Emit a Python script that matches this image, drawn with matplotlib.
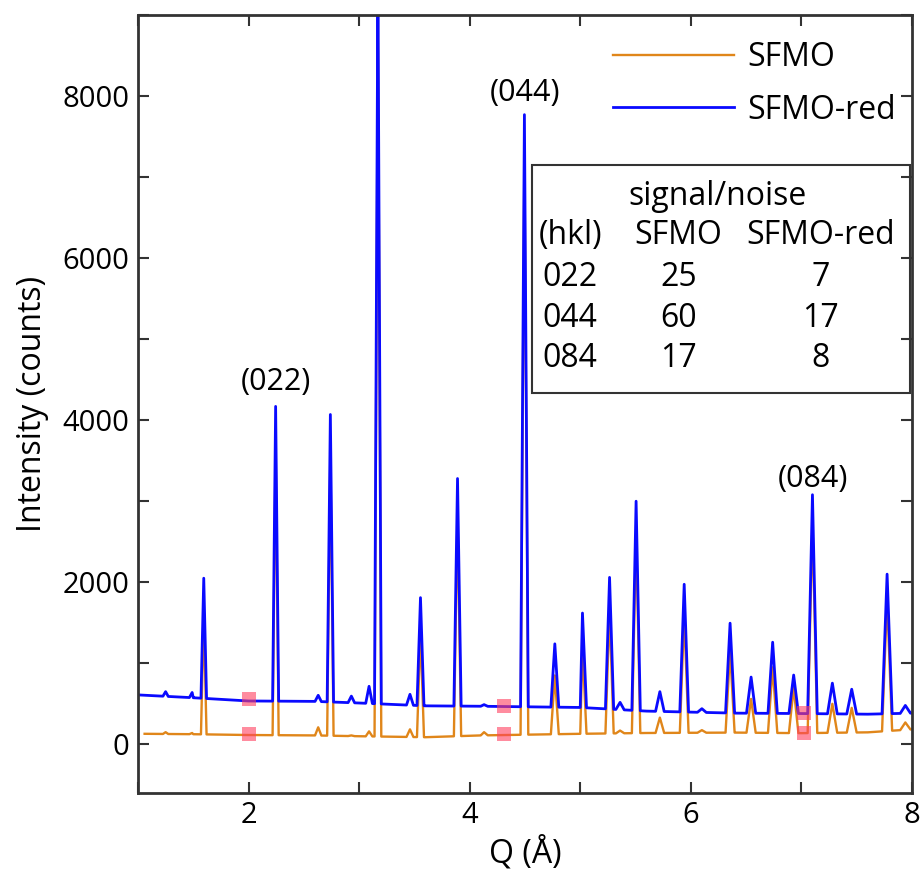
import numpy as np
import matplotlib
matplotlib.use("Agg")
import matplotlib.pyplot as plt
from matplotlib.patches import Rectangle
from matplotlib.ticker import MultipleLocator, FuncFormatter

plt.rcParams['font.family'] = ['Open Sans', 'DejaVu Sans']

# peak positions (Q) and peak tops
peak_q = [1.25, 1.49, 1.595, 2.245, 2.63, 2.74, 2.93, 3.09, 3.17, 3.46, 3.555, 3.89,
          4.13, 4.495, 4.77, 5.02, 5.265, 5.36, 5.505, 5.72, 5.94, 6.10, 6.355,
          6.545, 6.74, 6.93, 7.10, 7.28, 7.455, 7.775, 7.94]
red_top = [650, 640, 2050, 4170, 605, 4070, 595, 716, 9500, 617, 1810, 3280,
           490, 7770, 1240, 1620, 2060, 518, 3000, 650, 1975, 440, 1495,
           830, 1260, 855, 3080, 755, 680, 2100, 480]
sfmo_top = [150, 140, 1600, 3700, 210, 3600, 110, 160, 9000, 185, 1400, 2850,
            150, 7300, 850, 1200, 1650, 170, 2600, 330, 1600, 175, 1150,
            560, 950, 700, 2750, 500, 450, 1800, 270]

# background levels
red_base_q = [1.0, 1.5, 2.0, 2.6, 3.0, 3.6, 4.1, 5.0, 5.6, 6.4, 7.0, 7.6, 8.0]
red_base = [610, 575, 535, 530, 510, 475, 470, 455, 410, 385, 380, 372, 385]
sfmo_base_q = [1.06, 1.5, 2.0, 2.6, 3.0, 3.6, 4.1, 5.0, 5.6, 6.4, 7.0, 7.6, 8.0]
sfmo_base = [130, 125, 115, 110, 100, 88, 110, 130, 140, 145, 138, 148, 185]

# points where the noise level was taken
noise_q = [2.0, 4.31, 7.02]
noise_red = [556, 469, 383]
noise_sfmo = [123, 123, 136]

# signal/noise table
hkl = ['022', '044', '084']
sn_sfmo = [25, 60, 17]
sn_red = [7, 17, 8]
peak_labels = ['(022)', '(044)', '(084)']
label_q = [2.245, 4.50, 7.10]
label_y = [4470, 8040, 3270]


def trace(base_q, base, tops):
    qs = list(base_q)
    ys = list(base)
    for q, top in zip(peak_q, tops):
        if q < base_q[0]:
            continue
        w = 0.02 + 0.0033 * q
        for qq in (q - w, q + w):
            qs.append(qq)
            ys.append(np.interp(qq, base_q, base))
        qs.append(q)
        ys.append(top)
    order = np.argsort(qs)
    return np.array(qs)[order], np.array(ys)[order]


fig = plt.figure(figsize=(9.21, 8.71), dpi=100)
ax = fig.add_axes([0.1498, 0.0896, 0.8404, 0.8932])

q1, y1 = trace(sfmo_base_q, sfmo_base, sfmo_top)
q2, y2 = trace(red_base_q, red_base, red_top)
ax.plot(q1, y1, color='#e0861a', lw=1.7, label='SFMO')
ax.plot(q2, y2, color='#0a0aff', lw=2.0, label='SFMO-red')

ax.plot(noise_q, noise_red, 's', color='#ff4060', alpha=0.6, ms=10, mew=0)
ax.plot(noise_q, noise_sfmo, 's', color='#ff4060', alpha=0.6, ms=10, mew=0)

for lab, q, y in zip(peak_labels, label_q, label_y):
    ax.text(q, y, lab, ha='center', va='center', fontsize=22)

ax.set_xlim(1, 8)
ax.set_ylim(-600, 9000)
ax.xaxis.set_major_locator(MultipleLocator(1))
ax.yaxis.set_major_locator(MultipleLocator(1000))
ax.xaxis.set_major_formatter(FuncFormatter(lambda v, p: f'{v:.0f}' if round(v) % 2 == 0 else ''))
ax.yaxis.set_major_formatter(FuncFormatter(lambda v, p: f'{v:.0f}' if round(v) % 2000 == 0 else ''))
ax.tick_params(direction='in', length=8, width=1.5, color='#333333', labelsize=21,
               top=True, right=True, pad=6)
for sp in ax.spines.values():
    sp.set_linewidth(2)
    sp.set_color('#333333')

ax.set_xlabel('Q (Å)', fontsize=23, labelpad=4)
ax.set_ylabel('Intensity (counts)', fontsize=23, labelpad=10)

ax.legend(loc='upper right', frameon=False, fontsize=23, handlelength=3.8,
          handletextpad=0.4, labelspacing=0.6, bbox_to_anchor=(1.016, 1.003))

# signal/noise box
ax.add_patch(Rectangle((0.509, 0.514), 0.488, 0.293, transform=ax.transAxes,
                       fill=False, ec='#333333', lw=1.5))
ax.text(0.749, 0.767, 'signal/noise', transform=ax.transAxes, ha='center', va='center', fontsize=23)
ax.text(0.518, 0.716, '(hkl)', transform=ax.transAxes, ha='left', va='center', fontsize=23)
ax.text(0.698, 0.716, 'SFMO', transform=ax.transAxes, ha='center', va='center', fontsize=23)
ax.text(0.882, 0.716, 'SFMO-red', transform=ax.transAxes, ha='center', va='center', fontsize=23)
for i, (h, a, b) in enumerate(zip(hkl, sn_sfmo, sn_red)):
    yy = 0.663 - i * 0.0525
    ax.text(0.523, yy, h, transform=ax.transAxes, ha='left', va='center', fontsize=23)
    ax.text(0.698, yy, str(a), transform=ax.transAxes, ha='center', va='center', fontsize=23)
    ax.text(0.882, yy, str(b), transform=ax.transAxes, ha='center', va='center', fontsize=23)

fig.savefig('out.png', dpi=100)
